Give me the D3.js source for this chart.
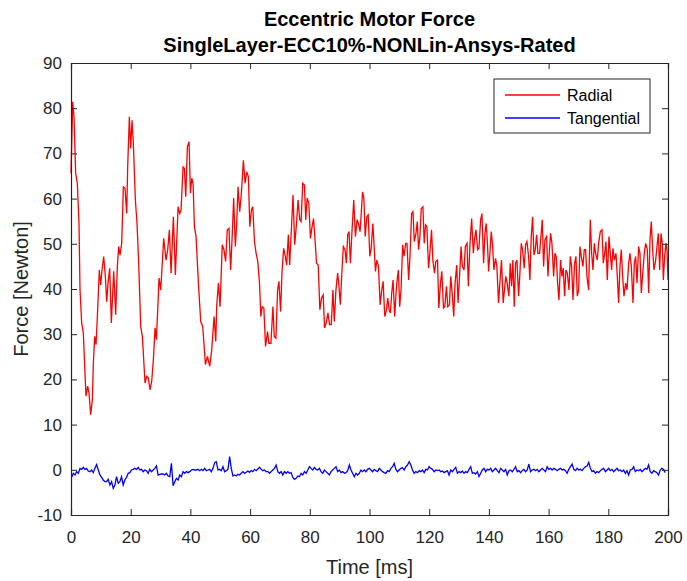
<!DOCTYPE html>
<html>
<head>
<meta charset="utf-8">
<title>Eccentric Motor Force</title>
<script src="https://d3js.org/d3.v7.min.js"></script>
<style>
    body { margin: 0; background: #fff; }
    text { font-family: "Liberation Sans", Arial, sans-serif; }
    .axis path, .axis line { stroke: #262626; }
    .axis text { fill: #262626; font-size: 17px; }
</style>
</head>
<body>
<div id="chart"></div>
<script>
    // Radial force samples (time in ms, force in N)
    const radialT = [
        0, 0.56, 1.0, 1.56, 2.12, 2.68, 3.02, 3.58, 4.13, 4.58, 5.03, 5.59, 6.03, 6.59, 7.15, 7.49, 7.93, 8.38, 8.83, 9.5,
        9.94, 10.39, 10.95, 11.51, 11.96, 12.4, 12.96, 13.52, 14.3, 14.97, 15.53, 15.98, 16.42, 16.98, 17.54, 18.1, 18.66, 18.99, 19.55, 20.0,
        20.45, 20.89, 21.56, 22.12, 22.68, 23.35, 23.91, 24.8, 25.36, 25.92, 26.48, 27.04, 27.6, 28.16, 28.6, 29.05, 29.5, 30.06, 31.06, 31.84,
        32.4, 32.96, 33.52, 34.3, 34.97, 35.87, 36.42, 36.87, 37.54, 37.99, 38.44, 38.99, 39.55, 40.0, 40.45, 40.89, 41.34, 41.9, 42.68, 43.46,
        44.13, 45.03, 45.7, 46.48, 47.15, 47.93, 48.49, 48.83, 49.39, 49.94, 50.67, 51.24, 51.8, 52.36, 52.92, 53.48, 54.04, 54.49, 55.06, 55.51,
        55.96, 56.52, 57.08, 57.75, 58.31, 58.88, 59.44, 59.89, 60.45, 60.9, 61.46, 62.02, 62.58, 63.15, 63.6, 64.04, 64.61, 65.17, 65.84, 66.29,
        66.97, 67.64, 68.09, 68.65, 69.21, 69.66, 70.22, 70.67, 71.24, 71.8, 72.25, 72.81, 73.26, 73.82, 74.38, 74.94, 75.51, 76.07, 76.63, 77.08,
        77.64, 78.2, 78.65, 79.1, 79.66, 80.22, 80.67, 81.24, 81.8, 82.25, 82.81, 83.37, 83.93, 84.49, 84.94, 85.51, 86.07, 86.63, 87.19, 87.75,
        88.2, 88.76, 89.33, 89.78, 90.22, 90.79, 91.24, 91.8, 92.25, 92.7, 93.15, 93.6, 94.16, 94.72, 95.28, 95.84, 96.29, 96.85, 97.67, 98.11,
        98.56, 99.11, 99.56, 100.11, 100.56, 101.11, 101.56, 102.0, 102.44, 103.0, 103.56, 104.11, 104.56, 105.11, 105.67, 106.11, 106.56, 107.0, 107.44, 107.89,
        108.44, 108.89, 109.33, 109.67, 110.11, 110.56, 111.11, 111.56, 112.11, 112.56, 113.11, 113.56, 114.11, 114.56, 115.0, 115.56, 116.0, 116.44, 116.89, 117.33,
        117.89, 118.33, 118.78, 119.22, 119.78, 120.22, 120.78, 121.22, 121.78, 122.22, 122.78, 123.22, 123.78, 124.22, 124.78, 125.22, 125.78, 126.22, 126.78, 127.22,
        127.78, 128.22, 128.67, 129.22, 129.67, 130.22, 130.67, 131.11, 131.67, 132.11, 132.67, 133.11, 133.67, 134.22, 134.78, 135.22, 135.67, 136.22, 136.67, 137.22,
        137.67, 138.22, 138.67, 139.11, 139.56, 139.89, 140.33, 140.78, 141.22, 141.67, 142.22, 142.67, 143.22, 143.67, 144.22, 144.78, 145.22, 145.67, 146.11, 146.7,
        147.15, 147.6, 148.04, 148.49, 148.94, 149.39, 149.94, 150.39, 150.84, 151.28, 151.84, 152.29, 152.74, 153.3, 153.74, 154.19, 154.64, 155.08, 155.53, 155.98,
        156.42, 156.98, 157.43, 157.88, 158.32, 158.77, 159.33, 159.78, 160.22, 160.67, 161.12, 161.68, 162.12, 162.57, 163.02, 163.46, 164.02, 164.47, 164.92, 165.36,
        165.81, 166.26, 166.82, 167.26, 167.71, 168.16, 168.72, 169.16, 169.61, 170.06, 170.5, 170.95, 171.51, 171.96, 172.4, 172.85, 173.41, 173.97, 174.41, 174.86,
        175.31, 175.75, 176.31, 176.76, 177.32, 177.88, 178.32, 178.77, 179.22, 179.66, 180.22, 180.67, 181.12, 181.56, 182.01, 182.57, 183.02, 183.46, 183.91, 184.36,
        184.8, 185.25, 185.81, 186.26, 186.82, 187.26, 187.71, 188.27, 188.72, 189.16, 189.61, 190.17, 190.61, 191.06, 191.62, 192.07, 192.51, 193.07, 193.52, 193.97,
        194.41, 194.86, 195.31, 195.87, 196.31, 196.76, 197.21, 197.65, 198.1, 198.44, 198.88, 199.33, 199.66, 200.0
    ];
    const radialF = [
        65.6, 81.4, 78.1, 65.6, 63.4, 54.5, 39.8, 32.5, 30.3, 22.9, 16.3, 18.5, 17.0, 12.2, 15.5, 23.6, 29.5, 27.7, 33.9, 44.2,
        40.9, 44.2, 47.2, 42.8, 37.2, 41.3, 44.6, 32.5, 43.9, 34.3, 45.0, 49.4, 47.5, 50.1, 62.6, 62.3, 56.7, 67.0, 78.1, 71.1,
        77.3, 72.2, 59.7, 54.5, 45.7, 31.7, 29.5, 19.2, 20.7, 20.3, 17.7, 19.6, 24.4, 31.4, 28.8, 35.4, 42.4, 39.8, 51.2, 46.4,
        48.7, 53.1, 43.5, 56.0, 43.1, 58.2, 56.7, 57.5, 67.0, 66.7, 60.4, 71.5, 72.6, 61.2, 64.5, 63.4, 53.8, 51.6, 41.3, 32.8,
        31.7, 23.3, 25.1, 22.9, 26.6, 33.9, 28.4, 36.5, 41.3, 36.1, 49.8, 48.7, 46.1, 53.1, 53.4, 44.2, 52.3, 60.1, 49.4, 54.5,
        62.6, 57.1, 61.2, 68.5, 63.4, 65.9, 64.8, 53.8, 57.5, 58.2, 50.5, 47.9, 46.1, 41.3, 33.9, 36.1, 35.8, 27.3, 30.6, 28.0,
        28.0, 36.1, 29.5, 29.1, 39.8, 41.7, 35.0, 43.5, 49.0, 47.2, 45.3, 52.0, 45.3, 53.1, 60.8, 49.8, 54.2, 59.7, 55.3, 54.9,
        63.4, 63.0, 55.3, 60.1, 59.0, 51.2, 53.4, 55.6, 50.5, 45.7, 45.3, 35.4, 38.0, 38.7, 31.4, 32.5, 34.7, 32.1, 32.1, 39.8,
        32.8, 39.8, 43.5, 40.6, 36.5, 44.2, 49.4, 48.7, 45.7, 52.0, 52.7, 45.7, 53.1, 59.7, 51.6, 55.3, 54.5, 52.7, 61.5, 60.1,
        51.6, 56.0, 56.4, 47.2, 49.0, 54.5, 49.4, 43.9, 46.4, 45.0, 36.5, 39.8, 41.7, 33.9, 35.4, 38.0, 35.4, 34.7, 39.1, 42.0,
        33.9, 39.1, 42.4, 44.2, 36.1, 39.8, 49.8, 47.2, 50.1, 50.1, 42.0, 47.2, 56.7, 57.1, 50.5, 52.3, 54.9, 48.7, 51.6, 57.8,
        58.2, 50.1, 54.2, 53.8, 44.6, 47.9, 53.1, 46.4, 43.5, 46.1, 46.4, 35.8, 41.3, 43.9, 35.8, 36.1, 40.6, 36.1, 36.5, 42.8,
        38.4, 33.9, 41.3, 45.3, 36.9, 43.5, 49.4, 45.0, 44.2, 49.4, 50.1, 40.6, 50.1, 55.6, 47.9, 51.2, 53.1, 48.7, 49.0, 55.3,
        56.7, 45.7, 52.3, 54.5, 49.4, 43.9, 47.9, 52.7, 49.8, 44.2, 46.8, 45.0, 36.9, 41.3, 46.4, 36.9, 39.8, 42.8, 41.3, 38.4,
        45.7, 40.6, 46.4, 36.1, 45.7, 46.4, 38.4, 43.5, 50.1, 48.7, 44.6, 49.8, 50.5, 47.2, 42.0, 51.6, 56.0, 47.5, 48.7, 52.0,
        47.9, 47.9, 51.6, 55.3, 45.0, 50.9, 51.6, 42.8, 47.9, 52.3, 50.1, 42.8, 47.9, 47.2, 41.3, 37.6, 46.4, 42.8, 44.6, 38.4,
        44.2, 43.5, 39.8, 47.2, 45.0, 37.6, 45.7, 47.2, 38.4, 39.8, 49.4, 47.2, 45.0, 48.7, 48.7, 42.8, 39.8, 55.3, 47.9, 44.2,
        50.1, 47.9, 46.4, 50.1, 52.7, 53.1, 45.7, 47.9, 50.5, 42.0, 51.6, 47.9, 44.2, 49.0, 46.4, 47.9, 42.8, 36.9, 45.0, 48.7,
        42.8, 38.4, 41.3, 39.8, 45.7, 47.9, 45.0, 36.9, 45.7, 47.2, 41.3, 49.4, 47.9, 39.1, 44.2, 47.9, 50.1, 48.7, 39.1, 50.9,
        54.9, 48.7, 44.2, 46.4, 49.4, 52.3, 44.2, 52.3, 50.1, 42.0, 47.2, 50.1, 48.7, 42.0
    ];

    // Tangential force, sampled every tanDt ms starting at tanT0
    const tanT0 = 0.22;
    const tanDt = 0.557;
    const tangentialF = [
        -1.67, -0.78, -1.15, -0.41, -0.78, 0.32, 0.10, 0.55, 0.10, 0.32,
        -0.27, -0.41, -0.04, -0.63, 0.32, 1.14, -0.04, -1.15, -1.67, -2.26,
        -2.63, -2.63, -2.11, -3.36, -2.63, -4.1, -3.36, -1.52, -2.99, -2.63,
        -1.52, -3.36, -2.26, -1.67, -0.78, -0.63, -0.04, 0.10, 0.32, 0.10,
        0.55, -0.04, 0.10, -0.41, -0.04, -0.19, -0.78, 0.10, -0.41, -0.04,
        0.32, 0.84, -1.15, -1.0, -0.93, -0.93, -1.15, -0.78, -1.37, -1.52,
        1.43, -3.51, -2.63, -1.89, -2.26, -1.15, -1.52, -0.41, -0.78, -0.41,
        -0.63, -0.41, -0.04, 0.10, -0.04, -0.04, 0.10, -0.19, 0.10, -0.19,
        0.32, -0.19, -0.04, 0.10, -0.41, 0.32, 1.6, 1.8, -0.04, 0.10,
        -0.19, 0.69, -0.41, -0.19, 0.10, 2.9, 0.32, -1.37, -1.15, -1.37,
        -1.0, -1.15, -0.78, -0.41, -0.78, -0.56, -0.27, -0.56, -0.19, -0.41,
        0.10, -0.19, 0.18, 0.55, 0.10, -0.19, -0.04, -0.41, -0.41, -0.78,
        -0.41, -0.04, 0.32, 1.06, -0.41, -0.78, -0.41, -1.15, -0.41, -0.78,
        -0.41, -0.78, -0.63, -1.67, -2.11, -1.89, -1.37, -1.52, -0.78, -1.15,
        -0.41, -0.78, -0.04, 0.69, 0.32, -0.04, 0.55, 0.10, -0.04, 0.32,
        -0.41, -0.78, -0.04, -0.41, -0.78, -1.15, -0.41, -0.04, 0.32, 0.69,
        -0.41, -0.04, -0.63, -0.41, -0.78, -0.63, -0.19, 1.06, -0.04, -0.78,
        -1.52, -0.78, -1.15, -0.78, -0.04, -0.41, -0.04, -0.41, 0.10,
        0.32, -0.04, -0.41, 0.10, -0.19, -0.41, 0.32, -0.04, -0.41, -0.63,
        -0.78, -0.19, -0.41, 0.32, 0.69, 1.43, 0.10, -0.41, -0.04, 0.32,
        0.47, -0.04, 0.69, 1.06, 1.8, 1.06, -0.04, -0.78, -0.41, -0.63,
        -0.19, -0.41, -0.04, -0.63, 0.10, -0.04, 0.69, 0.32, 0.10, -0.41,
        -0.04, -0.19, -0.04, -0.41, -0.27, -0.63, -0.41, -0.19, -1.15, -0.04,
        -0.41, 0.10, 0.55, -0.78, -0.41, -0.63, -0.27, -0.78, -0.41, -0.63,
        0.10, 0.69, -0.78, -0.63, -0.93, -0.41, -1.52, -0.78, -0.04, 0.32,
        -0.41, 0.10, -0.04, 0.32, -0.41, -0.04, 0.32, -0.19, -0.63, 0.32,
        -0.04, -0.41, 0.10, -1.15, -0.19, -0.04, -0.41, 0.10, 0.69, -0.41,
        -0.19, -0.63, -0.19, 0.10, -0.41, -0.04, 1.28, -0.41, -0.04, 0.10,
        -0.19, 0.10, -0.41, -0.04, 0.32, -0.04, -0.41, 0.69, 0.10, 0.32,
        -0.04, 0.32, 0.10, -0.19, 0.10, 0.32, -0.04, 0.10, -0.19, -0.78,
        0.10, 0.69, 1.28, 0.10, -0.19, 0.32, -0.04, 0.10, -0.19, 0.32,
        0.69, 0.84, 1.65, 0.32, -0.41, -0.19, -0.78, -0.41, -0.63, -0.19,
        0.10, 0.32, -0.41, -0.04, 0.32, -0.19, 0.10, -0.41, -0.04, 0.32,
        -0.19, -0.04, -0.41, -0.04, -0.78, -0.19, -1.15, -0.04, 0.10, 0.69,
        -0.41, -0.04, -0.19, 0.10, -0.41, -0.04, 0.32, 0.10, 1.06, -0.41,
        -0.78, -0.19, -0.41, -0.63, -1.15, -0.04, 0.32, 0.10, -0.63
    ];

    const xTicks = [0, 20, 40, 60, 80, 100, 120, 140, 160, 180, 200];
    const yTicks = [-10, 0, 10, 20, 30, 40, 50, 60, 70, 80, 90];
    const seriesNames = ["Radial", "Tangential"];
    const seriesColors = ["#ff0000", "#0000ff"];

    // Set up dimensions
    const W = 687, H = 581;
    const margin = { top: 63, right: 19, bottom: 66, left: 71 };
    const width = W - margin.left - margin.right;
    const height = H - margin.top - margin.bottom;

    const root = d3.select("#chart")
        .append("svg")
        .attr("width", W)
        .attr("height", H);

    const svg = root.append("g")
        .attr("transform", "translate(" + margin.left + "," + margin.top + ")");

    // Scales
    const x = d3.scaleLinear().domain([0, 200]).range([0, width]);
    const y = d3.scaleLinear().domain([-10, 90]).range([height, 0]);

    // Lines
    const radial = radialT.map((t, i) => [t, radialF[i]]);
    const tangential = tangentialF.map((v, i) => [tanT0 + i * tanDt, v]);

    const line = d3.line().x(d => x(d[0])).y(d => y(d[1]));

    svg.append("path")
        .datum(radial)
        .attr("fill", "none")
        .attr("stroke", seriesColors[0])
        .attr("stroke-width", 1.3)
        .attr("d", line);

    svg.append("path")
        .datum(tangential)
        .attr("fill", "none")
        .attr("stroke", seriesColors[1])
        .attr("stroke-width", 1.3)
        .attr("d", line);

    // Axes (ticks inward, box on); plain hyphen for negatives like MATLAB
    const plain = d => String(d);

    svg.append("g")
        .attr("class", "axis")
        .attr("transform", "translate(0," + height + ")")
        .call(d3.axisBottom(x).tickValues(xTicks).tickSize(-6).tickPadding(16).tickFormat(plain));

    svg.append("g")
        .attr("class", "axis")
        .call(d3.axisLeft(y).tickValues(yTicks).tickSize(-6).tickPadding(9).tickFormat(plain));

    svg.append("g")
        .attr("class", "axis")
        .call(d3.axisTop(x).tickValues(xTicks).tickSize(-6).tickFormat(""));

    svg.append("g")
        .attr("class", "axis")
        .attr("transform", "translate(" + width + ",0)")
        .call(d3.axisRight(y).tickValues(yTicks).tickSize(-6).tickFormat(""));

    svg.selectAll(".axis .domain").attr("stroke-width", 1.2);

    // Titles
    root.append("text")
        .attr("x", margin.left + width / 2)
        .attr("y", 26)
        .attr("text-anchor", "middle")
        .style("font-size", "20px")
        .style("font-weight", "bold")
        .text("Eccentric Motor Force");

    root.append("text")
        .attr("x", margin.left + width / 2)
        .attr("y", 52)
        .attr("text-anchor", "middle")
        .style("font-size", "20px")
        .style("font-weight", "bold")
        .text("SingleLayer-ECC10%-NONLin-Ansys-Rated");

    // Axis titles
    root.append("text")
        .attr("x", margin.left + width / 2)
        .attr("y", 574)
        .attr("text-anchor", "middle")
        .style("font-size", "20px")
        .style("fill", "#262626")
        .text("Time [ms]");

    root.append("text")
        .attr("transform", "translate(28," + (margin.top + height / 2) + ") rotate(-90)")
        .attr("text-anchor", "middle")
        .style("font-size", "20px")
        .style("fill", "#262626")
        .text("Force [Newton]");

    // Legend
    const legend = root.append("g").attr("transform", "translate(494,79)");
    legend.append("rect")
        .attr("width", 156)
        .attr("height", 54)
        .attr("fill", "#fff")
        .attr("stroke", "#262626")
        .attr("stroke-width", 1);

    seriesNames.forEach((name, i) => {
        const ly = 16 + i * 23;
        legend.append("line")
            .attr("x1", 11).attr("x2", 66)
            .attr("y1", ly).attr("y2", ly)
            .attr("stroke", seriesColors[i])
            .attr("stroke-width", 1.3);
        legend.append("text")
            .attr("x", 73)
            .attr("y", ly + 6)
            .style("font-size", "16px")
            .style("fill", "#000")
            .text(name);
    });
</script>
</body>
</html>
